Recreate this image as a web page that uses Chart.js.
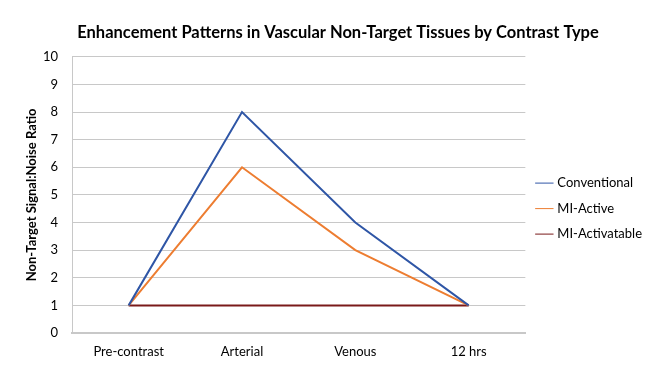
<!DOCTYPE html>
<html>
<head>
<meta charset="utf-8">
<script src="https://cdn.jsdelivr.net/npm/chart.js@4.4.0/dist/chart.umd.min.js"></script>
<style>
  html, body { margin: 0; padding: 0; background: #fff; }
  #wrap { width: 672px; height: 384px; }
</style>
</head>
<body>
<div id="wrap"><canvas id="lineChart"></canvas></div>
<script>
(function () {
    "use strict";

    var categories = ["Pre-contrast", "Arterial", "Venous", "12 hrs"];
    var conventional = [1, 8, 4, 1];
    var miActive = [1, 6, 3, 1];
    var miActivatable = [1, 1, 1, 1];
    var yTicks = [0, 1, 2, 3, 4, 5, 6, 7, 8, 9, 10];

    var fontFamily = "Lato, 'Liberation Sans', sans-serif";
    Chart.defaults.font.family = fontFamily;
    Chart.defaults.color = "#000";

    var ctx = document.getElementById("lineChart").getContext("2d");

    new Chart(ctx, {
        type: "line",
        data: {
            labels: categories,
            datasets: [
                { label: "Conventional", data: conventional, borderColor: "#2f56a6", backgroundColor: "#2f56a6" },
                { label: "MI-Active", data: miActive, borderColor: "#ed7d31", backgroundColor: "#ed7d31" },
                { label: "MI-Activatable", data: miActivatable, borderColor: "#7a1a1a", backgroundColor: "#7a1a1a" }
            ]
        },
        options: {
            responsive: true,
            maintainAspectRatio: false,
            animation: false,
            elements: {
                line: { borderWidth: 2, tension: 0 },
                point: { radius: 0, hoverRadius: 0 }
            },
            layout: { padding: { left: 24, right: 20, top: 0, bottom: 0 } },
            plugins: {
                title: {
                    display: true,
                    text: "Enhancement Patterns in Vascular Non-Target Tissues by Contrast Type",
                    font: { size: 16.5, weight: "bold" },
                    padding: { top: 23, bottom: 14 }
                },
                legend: {
                    position: "right",
                    title: { display: true, text: " ", font: { size: 1 }, padding: 16 },
                    labels: {
                        usePointStyle: true,
                        pointStyle: "line",
                        boxWidth: 17,
                        padding: 12.5,
                        font: { size: 13 }
                    }
                },
                tooltip: { enabled: false }
            },
            scales: {
                x: {
                    offset: true,
                    grid: { display: false, drawTicks: false },
                    border: { display: true, color: "#c8c8c8", width: 2 },
                    ticks: { font: { size: 13 }, padding: 11 },
                    afterFit: function (scale) { scale.height = 51; }
                },
                y: {
                    min: 0,
                    max: 10,
                    afterBuildTicks: function (scale) {
                        scale.ticks = yTicks.map(function (v) { return { value: v }; });
                    },
                    grid: { color: "#c8c8c8", lineWidth: 1, drawTicks: false },
                    border: { display: true, color: "#c8c8c8", width: 1 },
                    ticks: { font: { size: 13 }, padding: 14 },
                    title: {
                        display: true,
                        text: "Non-Target Signal:Noise Ratio",
                        font: { size: 13, weight: "bold" },
                        padding: { top: 0, bottom: 4 }
                    },
                    afterFit: function (scale) { scale.width = 48; }
                }
            }
        }
    });
})();
</script>
</body>
</html>
